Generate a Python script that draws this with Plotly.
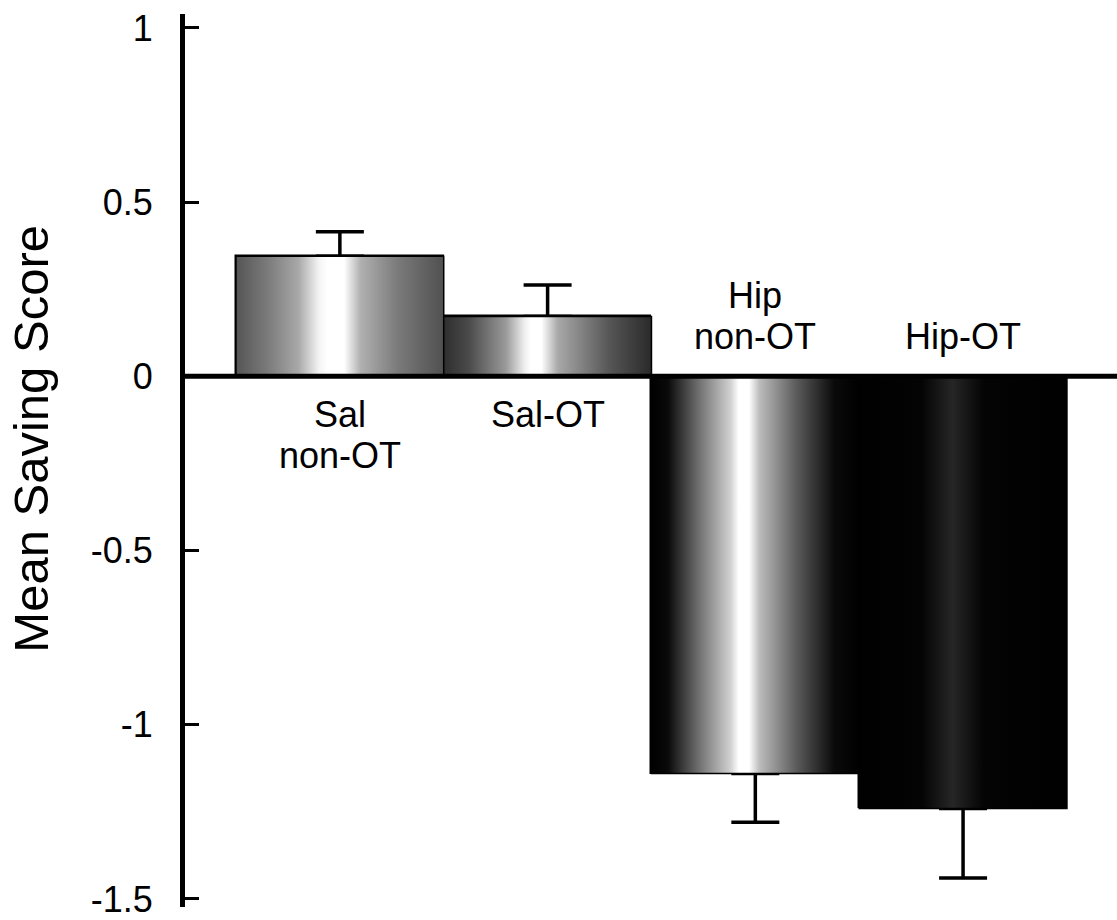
import plotly.graph_objects as go

# ---- data ----
categories = ["Sal non-OT", "Sal-OT", "Hip non-OT", "Hip-OT"]
bar_labels = ["Sal<br>non-OT", "Sal-OT", "Hip<br>non-OT", "Hip-OT"]
means = [0.345, 0.172, -1.14, -1.24]
sem = [0.07, 0.09, 0.14, 0.20]
y_tickvals = [1, 0.5, 0, -0.5, -1, -1.5]
y_ticktext = ["1", "0.5", "0", "-0.5", "-1", "-1.5"]
y_title = "Mean Saving Score"

# ---- styles ----
FONT = "Liberation Sans, Arial, Helvetica, sans-serif"
solid_colors = ["#8a8a8a", "#6a6a6a", "#4a4a4a", "#080808"]
gradients = [
    [[0, "#555555"], [0.15, "#7a7a7a"], [0.3, "#a8a8a8"], [0.4, "#f4f4f4"], [0.44, "#ffffff"],
     [0.52, "#ffffff"], [0.6, "#b0b0b0"], [0.78, "#7a7a7a"], [1, "#505050"]],
    [[0, "#2e2e2e"], [0.12, "#4a4a4a"], [0.3, "#9a9a9a"], [0.39, "#f0f0f0"], [0.42, "#ffffff"],
     [0.47, "#ffffff"], [0.55, "#a8a8a8"], [0.8, "#555555"], [1, "#2a2a2a"]],
    [[0, "#000000"], [0.08, "#0a0a0a"], [0.22, "#6a6a6a"], [0.38, "#d0d0d0"], [0.42, "#ffffff"],
     [0.47, "#ffffff"], [0.52, "#bcbcbc"], [0.7, "#5a5a5a"], [0.88, "#0a0a0a"], [1, "#000000"]],
    [[0, "#000000"], [0.3, "#040404"], [0.45, "#262626"], [0.6, "#040404"], [1, "#000000"]],
]
BAR_W = 1.0
LABEL_SIZE = 36
LINE_GAP = 41

x_pos = list(range(len(categories)))
err_plus = [s if m >= 0 else 0 for m, s in zip(means, sem)]
err_minus = [0 if m >= 0 else s for m, s in zip(means, sem)]

fig = go.Figure()

fig.add_trace(go.Bar(
    x=x_pos, y=means, width=BAR_W,
    marker=dict(color=solid_colors, line=dict(color="black", width=1.5)),
    error_y=dict(type="data", symmetric=False, array=err_plus, arrayminus=err_minus,
                 color="black", thickness=3.5, width=24),
    showlegend=False, hoverinfo="skip",
))

# gradient overlays built from the same data
for i, (xc, m) in enumerate(zip(x_pos, means)):
    x0, x1 = xc - BAR_W / 2, xc + BAR_W / 2
    fig.add_trace(go.Scatter(
        x=[x0, x1, x1, x0, x0], y=[0, 0, m, m, 0],
        mode="lines", fill="toself",
        fillgradient=dict(type="horizontal", colorscale=gradients[i]),
        line=dict(color="black", width=1.5),
        showlegend=False, hoverinfo="skip",
    ))

# category labels (below the zero line for positive bars, above for negative)
for i, (xc, m) in enumerate(zip(x_pos, means)):
    lines = bar_labels[i].split("<br>")
    n = len(lines)
    for k, line in enumerate(lines):
        if m >= 0:
            shift = -38 - LINE_GAP * k
        else:
            shift = 40 + LINE_GAP * (n - 1 - k)
        fig.add_annotation(x=xc, y=0, text=line, showarrow=False,
                           xanchor="center", yanchor="middle", yshift=shift,
                           font=dict(size=LABEL_SIZE, color="black", family=FONT))

# y-axis title
fig.add_annotation(xref="paper", yref="paper", x=-0.1652, y=0.5245, text=y_title,
                   textangle=-90, showarrow=False, xanchor="center", yanchor="middle",
                   font=dict(size=49, color="black", family=FONT))

# zero line
fig.add_shape(type="line", xref="paper", x0=0, x1=1, yref="y", y0=0, y1=0,
              line=dict(color="black", width=5), layer="above")

fig.update_layout(
    width=1117, height=920,
    margin=dict(l=185, r=0, t=14, b=4),
    paper_bgcolor="white", plot_bgcolor="white",
    bargap=0,
    font=dict(family=FONT, color="black"),
    xaxis=dict(range=[-0.7455, 3.741], showticklabels=False, ticks="", showgrid=False,
               zeroline=False, showline=False),
    yaxis=dict(range=[-1.523, 1.04], tickvals=y_tickvals, ticktext=y_ticktext,
               ticks="inside", ticklen=14, tickwidth=3, tickcolor="black",
               showline=True, linewidth=5, linecolor="black", showgrid=False, zeroline=False,
               tickfont=dict(size=36, family=FONT, color="black"), ticklabelstandoff=20,
               ticklabeloverflow="allow"),
)

fig.write_html("out.html", config={"displayModeBar": False},
               post_script="document.body.style.margin='0';")
